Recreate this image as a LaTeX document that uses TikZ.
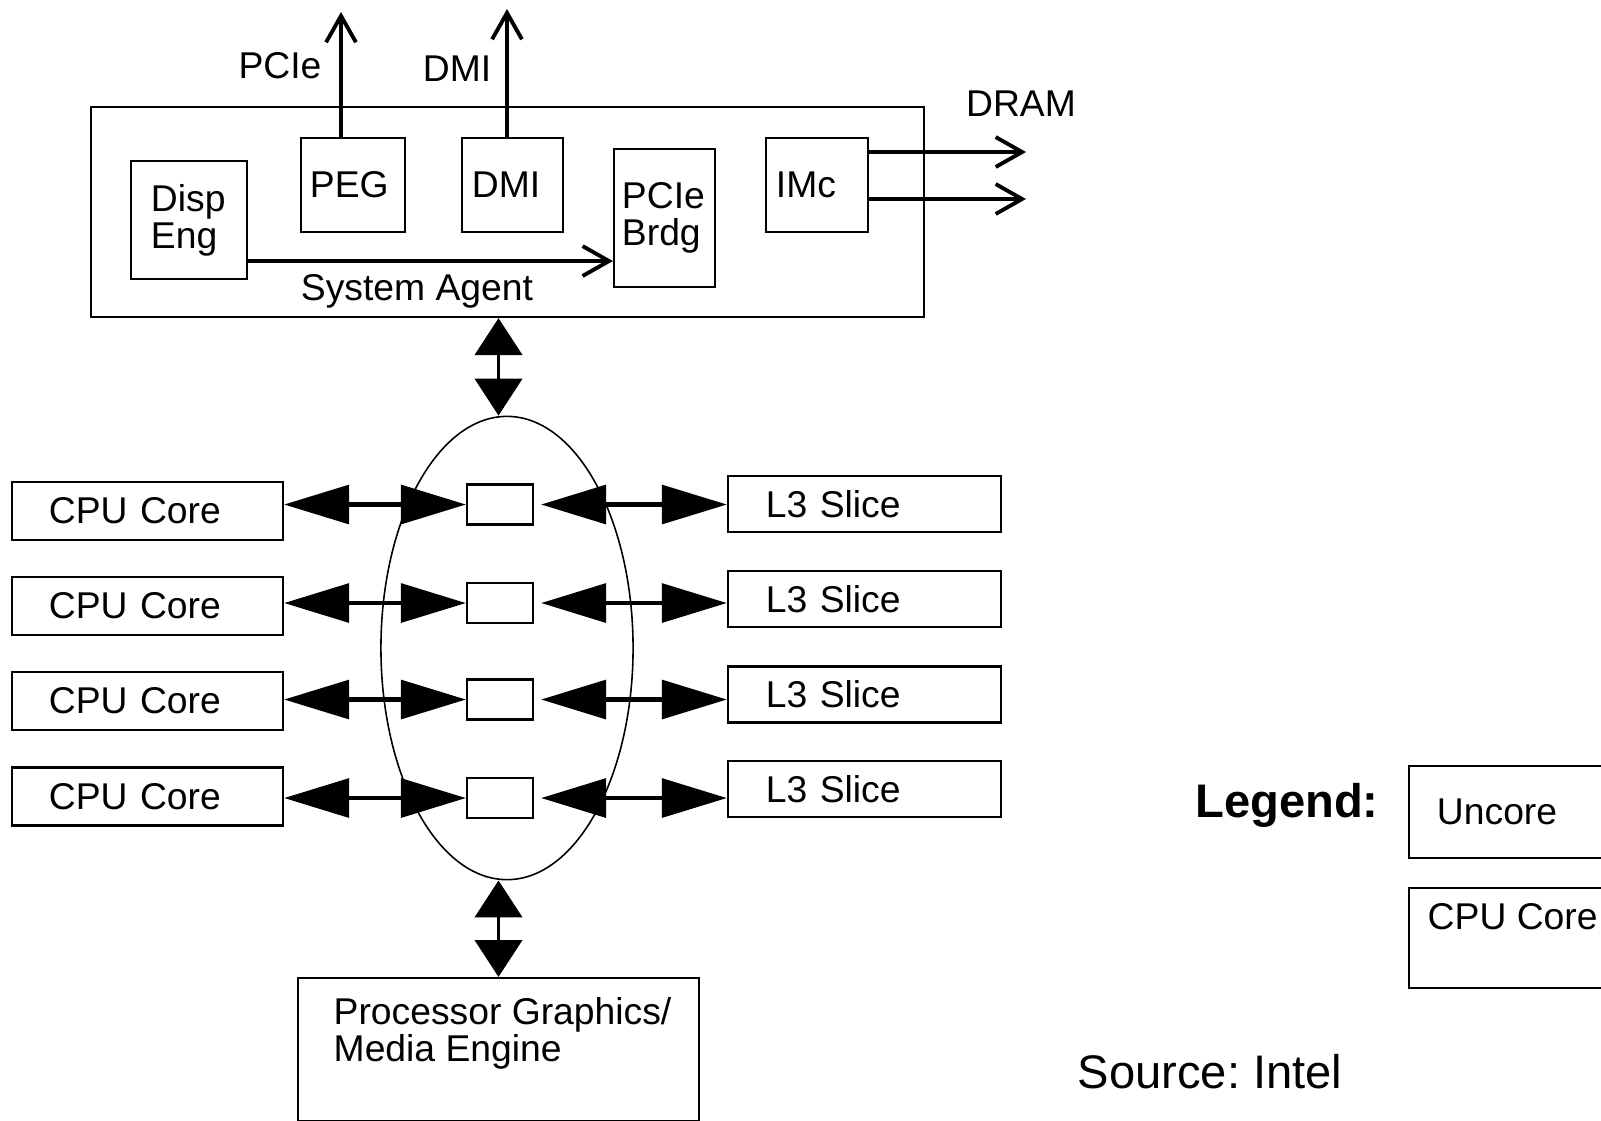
\documentclass[tikz,border=0pt]{standalone}
\usepackage{fontspec}
\setmainfont{Liberation Sans}
\frenchspacing
\usetikzlibrary{arrows.meta,shapes.geometric,calc}
\tikzstyle{unit}=[draw,rectangle,line width=0.6pt,align=left,inner ysep=0pt,font=\fontsize{10.6}{10.5}\selectfont]
\tikzstyle{ringstop}=[draw,rectangle,line width=0.6pt,minimum width=0.66cm,minimum height=0.4cm,inner sep=0pt]
\tikzstyle{ringbus}=[draw,ellipse,line width=0.45pt,minimum width=2.52cm,minimum height=4.63cm,inner sep=0pt]
\tikzstyle{txt}=[inner sep=0pt,font=\fontsize{10.6}{10.5}\selectfont]
\tikzstyle{bigtxt}=[inner sep=0pt,font=\fontsize{13.4}{15}\selectfont]
\tikzstyle{bus}=[draw,line width=1.2pt,arrows={Triangle[length=18.5pt,width=11pt]-Triangle[length=18.5pt,width=11pt]}]
\tikzstyle{link}=[draw,line width=1.1pt,arrows={Triangle[length=10.5pt,width=13.4pt]-Triangle[length=10.5pt,width=13.4pt]}]
\tikzstyle{port}=[draw,line width=1.1pt,arrows={-Straight Barb[length=7.5pt,width=8.5pt]}]

\begin{document}
\begin{tikzpicture}[x=0.01cm,y=-0.01cm]
\useasboundingbox (0,0) rectangle (1601,1120);

% System Agent
\node[unit,minimum width=8.33cm,minimum height=2.1cm] (sa) at (507.5,212) {};
\node[txt] (satext) at (417,291) {System Agent};

\foreach \pos/\name/\w/\h/\s/\txt in {{(189,220)/disp/0.76cm/1.18cm/0.2cm/{Disp\\Eng}},
        {(353,185)/peg/0.86cm/0.94cm/0.09cm/PEG}, {(512.5,185)/dmi/0.81cm/0.94cm/0.1cm/DMI},
        {(664.5,218)/brdg/0.85cm/1.38cm/0.08cm/{PCIe\\Brdg}}, {(817,185)/imc/0.82cm/0.94cm/0.1cm/IMc}}
    \node[unit,text width=\w,minimum height=\h,inner xsep=\s] (\name) at \pos {\txt};

% outside links
\coordinate (pcieout) at (341,12);
\coordinate (dmiout) at (507,9);
\coordinate (dram1) at (1026,152);
\coordinate (dram2) at (1026,199);
\path[port] (pcieout |- peg.north) -- (pcieout);
\path[port] (dmiout |- dmi.north) -- (dmiout);
\path[port] (dram1 -| imc.east) -- (dram1);
\path[port] (dram2 -| imc.east) -- (dram2);
\path[port] ([yshift=-0.41cm]disp.east) -- ([yshift=-0.41cm]disp.east -| brdg.west);

\node[txt] (pcielbl) at (280,66) {PCIe};
\node[txt] (dmilbl) at (457,69) {DMI};
\node[txt] (dramlbl) at (1021,104) {DRAM};

% Ring
\node[ringbus] (ring) at (507,648) {};
\foreach \y/\i in {504.5/1,603/2,699.5/3,798/4}
    \node[ringstop] (stop\i) at (500,\y) {};

%cores left
\foreach \y/\i in {511/1,606/2,701/3,796.5/4}
    \node[unit,text width=1.97cm,minimum height=0.58cm,inner xsep=0.37cm] (core\i) at (147.5,\y) {CPU Core};
%slices right
\foreach \y/\i in {504/1,599/2,694.5/3,789/4}
    \node[unit,text width=1.97cm,minimum height=0.56cm,inner xsep=0.38cm] (slice\i) at (864.5,\y) {L3 Slice};

% Connect cores and slices to the ring
\foreach \i in {1,...,4}{
    \path[bus] (core\i.east |- stop\i) -- (stop\i.west);
    \path[bus,shorten <=2pt] (stop\i.east) -- (stop\i.east -| slice\i.west);
}

% Graphics
\node[unit,minimum width=4.01cm,minimum height=1.43cm] (pg) at (498.5,1049.5) {};
\node[txt,anchor=north west,align=left] (pgtext) at (333,997) {Processor Graphics/\\Media Engine};
\path[link] (pg.north |- sa.south) -- (pg.north |- ring.north);
\path[link] (pg.north |- ring.south) -- (pg.north);

% Legend
\node[bigtxt] (legend) at (1287,805) {\bfseries Legend:};
\node[unit,text width=1.4cm,minimum height=0.92cm,inner xsep=0.28cm] (uncore) at (1507,812) {Uncore};
\node[unit,minimum width=1.96cm,minimum height=1cm] (corekey) at (1507,938) {};
\node[txt,anchor=north west] (corekeytext) at (1427,903) {CPU Core};

\node[bigtxt] (source) at (1210,1072) {Source: Intel};

\end{tikzpicture}
\end{document}
